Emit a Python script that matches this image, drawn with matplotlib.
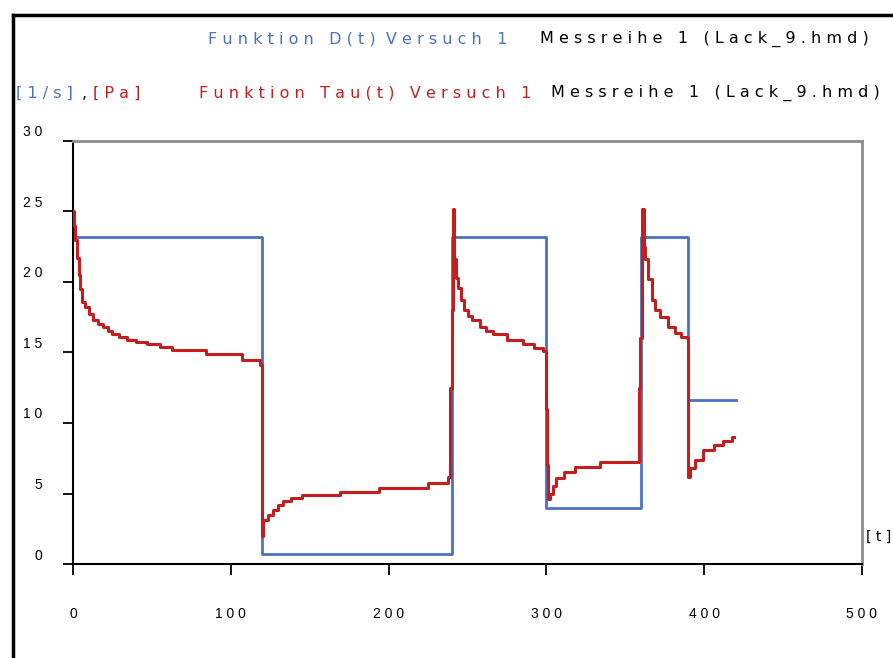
import numpy as np
import matplotlib.pyplot as plt
from matplotlib.lines import Line2D
from matplotlib.transforms import ScaledTranslation

# Data
# D(t): shear rate steps (blue)
d_t = [0, 120, 240, 300, 360, 390, 420]
d_val = [23.2, 0.7, 23.2, 4.0, 23.2, 11.65, 11.65]

# Tau(t): shear stress response (red)
tau_t = [0, 0.8, 1.5, 2.5, 3.5, 4.5, 6, 7.5, 10, 12.7, 16, 19, 22, 25, 29, 34,
         40, 47, 55, 63, 84, 107, 118.5,
         120, 120.5, 123.5, 127, 130, 133, 138, 145, 169, 194, 225, 237.5,
         239, 240, 240.8,
         241.5, 243, 244, 246, 248, 250.5, 253, 258, 262, 266, 275, 285, 292, 298,
         300, 300.5, 301, 302, 304, 306, 311, 318, 334,
         358.5, 359.5, 360.5,
         362, 362.5, 364.5, 367, 369, 372, 377, 381.5, 385, 389,
         390, 391, 394, 399, 406, 412, 417.5, 419]
tau_val = [25.0, 24.0, 23.0, 21.7, 20.5, 19.5, 18.6, 18.2, 17.7, 17.3, 17.0, 16.8, 16.5, 16.3, 16.1, 15.9,
           15.75, 15.6, 15.4, 15.2, 14.9, 14.5, 14.1,
           2.0, 3.1, 3.5, 3.8, 4.2, 4.5, 4.7, 4.9, 5.1, 5.4, 5.75, 6.2,
           12.5, 18.0, 25.2,
           21.6, 20.3, 19.6, 18.7, 18.0, 17.6, 17.3, 16.8, 16.5, 16.3, 15.9, 15.6, 15.3, 15.1,
           11.0, 7.0, 4.6, 5.0, 5.5, 6.1, 6.5, 6.85, 7.25,
           12.5, 16.0, 25.2,
           22.5, 21.6, 20.2, 18.7, 18.0, 17.5, 16.8, 16.4, 16.1, 16.0,
           6.2, 6.8, 7.4, 8.1, 8.45, 8.7, 9.0, 9.0]

x_ticks = [0, 100, 200, 300, 400, 500]
y_ticks = [0, 5, 10, 15, 20, 25, 30]

BLUE = '#4a72c0'
RED = '#c41e1e'
W, H = 893, 658


def spaced(s):
    return ' '.join(s)


plt.rcParams['font.family'] = ['Liberation Sans', 'DejaVu Sans']

fig = plt.figure(figsize=(W / 100, H / 100), dpi=100)
ax = fig.add_axes([73 / W, 94 / H, 789 / W, 423 / H])

ax.plot(d_t, d_val, drawstyle='steps-post', color=BLUE, lw=2.0, zorder=2)
ax.plot(tau_t, tau_val, drawstyle='steps-post', color=RED, lw=2.2, zorder=3)

ax.set_xlim(0, 500)
ax.set_ylim(0, 30)
ax.set_xticks(x_ticks)
ax.set_xticklabels([spaced(str(v)) for v in x_ticks])
ax.set_yticks(y_ticks)
ax.set_yticklabels([spaced(str(v)) for v in y_ticks])
ax.tick_params(axis='y', direction='out', length=7, width=1.3, pad=15, labelsize=10)
ax.tick_params(axis='x', direction='out', length=8, width=1.3, pad=23, labelsize=10)
for lab in ax.get_yticklabels():
    lab.set_transform(lab.get_transform() + ScaledTranslation(0, 0.1, fig.dpi_scale_trans))

for side in ['left', 'bottom']:
    ax.spines[side].set_color('black')
    ax.spines[side].set_linewidth(1.5)
for side in ['top', 'right']:
    ax.spines[side].set_color('#8c8c8c')
    ax.spines[side].set_linewidth(2)


def ftext(x, y, s, color, size=11.5):
    fig.text(x / W, 1 - y / H, s, color=color, fontsize=size, va='center', ha='left',
             family='DejaVu Sans')


# header lines
ftext(208, 39, spaced('Funktion D(t)') + '  ' + spaced('Versuch 1'), BLUE)
ftext(540, 39, spaced('Messreihe 1 (Lack_9.hmd)'), 'black')
ftext(16, 93, spaced('[1/s]'), BLUE)
ftext(82, 93, ',', 'black')
ftext(93, 93, spaced('[Pa]'), RED)
ftext(199, 93, spaced('Funktion Tau(t) Versuch 1'), RED)
ftext(551, 93, spaced('Messreihe 1 (Lack_9.hmd)'), 'black')
ftext(866, 537, spaced('[t]'), 'black', size=10)

# outer frame
fig.add_artist(Line2D([13 / W, 13 / W], [0, 1 - 15 / H], color='black', lw=2.5,
                      transform=fig.transFigure))
fig.add_artist(Line2D([13 / W, 1], [1 - 15 / H, 1 - 15 / H], color='black', lw=2.5,
                      transform=fig.transFigure))

fig.savefig('out.png', dpi=100)
